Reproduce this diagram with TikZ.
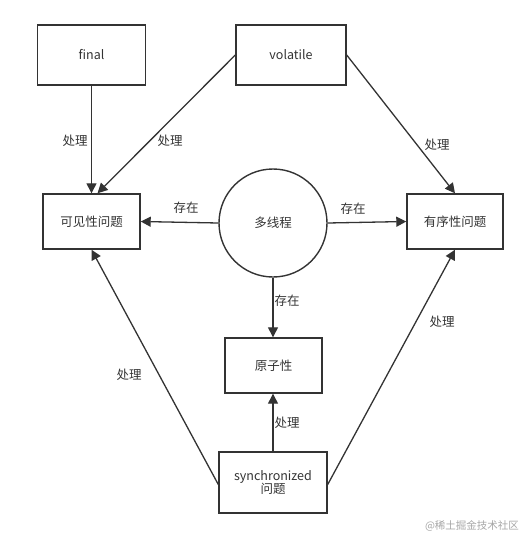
\documentclass[tikz,border=0pt]{standalone}
\usepackage{fontspec}
\setmainfont{Noto Sans CJK SC}
\usetikzlibrary{arrows.meta}
\definecolor{ink}{HTML}{333333}
\tikzset{
  box/.style={draw=ink, line width=1.4pt, rectangle, inner sep=0pt, text=ink, font=\fontsize{12.5}{15}\selectfont, align=center},
  circ/.style={draw=ink, line width=1.4pt, circle, inner sep=0pt, minimum size=108pt, text=ink, font=\fontsize{12.5}{15}\selectfont},
  arr/.style={draw=ink, line width=1.3pt, -{Triangle[length=10pt,width=10pt]}},
  lbl/.style={text=ink, font=\fontsize{12.5}{15}\selectfont, inner sep=0pt},
}
\begin{document}
\begin{tikzpicture}[x=1pt,y=-1pt]
\useasboundingbox (0,0) rectangle (528,538);
\node[box, minimum width=108pt, minimum height=60pt] (final) at (91.5,55) {final};
\node[box, minimum width=110pt, minimum height=60pt] (vol) at (291,55) {volatile};
\node[box, minimum width=97pt, minimum height=55pt] (vis) at (91.5,221.5) {可见性问题};
\node[circ] (mt) at (273,223) {多线程};
\node[box, minimum width=96pt, minimum height=55pt] (ord) at (455,221.5) {有序性问题};
\node[box, minimum width=97pt, minimum height=55pt] (atom) at (273.5,365.5) {原子性};
\node[box, minimum width=108pt, minimum height=61pt] (sync) at (273,482.5) {synchronized\\[-2pt]问题};

\draw[arr] (final.south) -- (vis.north);
\draw[arr] (vol.west) -- ([xshift=6pt]vis.north);
\draw[arr] (vol.east) -- (ord.north);
\draw[arr] (mt.west) -- (vis.east);
\draw[arr] (mt.east) -- (ord.west);
\draw[arr] (mt.south) -- ([xshift=-0.5pt]atom.north);
\draw[arr] (sync.north) -- ([xshift=-0.5pt]atom.south);
\draw[arr] ([yshift=-2pt]sync.west) -- (vis.south);
\draw[arr] ([yshift=-2pt]sync.east) -- (ord.south);

\node[lbl] (l1) at (75,141) {处理};
\node[lbl] (l2) at (170,141) {处理};
\node[lbl] (l3) at (437,145) {处理};
\node[lbl] (l4) at (186,208) {存在};
\node[lbl] (l5) at (353,209) {存在};
\node[lbl] (l6) at (287,301) {存在};
\node[lbl] (l7) at (287,423) {处理};
\node[lbl] (l8) at (129,375) {处理};
\node[lbl] (l9) at (442,322) {处理};
\node[text=gray!70, font=\fontsize{10.5}{12}\selectfont, inner sep=0pt] (wm) at (472,526) {@稀土掘金技术社区};
\end{tikzpicture}
\end{document}
